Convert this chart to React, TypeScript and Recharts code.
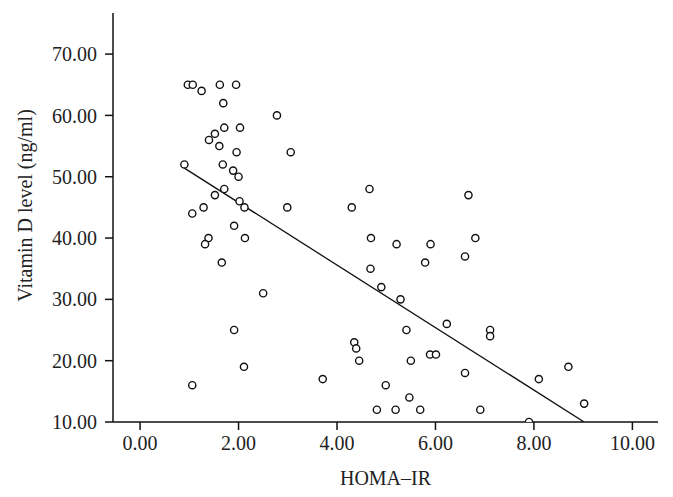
import { ScatterChart, Scatter, XAxis, YAxis } from "recharts";

const homaIr = [
  0.97, 1.07, 1.25, 1.62, 1.95, 1.69, 2.78, 1.4, 1.52, 1.71, 2.03, 1.61, 1.96,
  3.06, 0.9, 1.68, 1.89, 2.0, 1.71, 1.52, 2.02, 2.12, 2.99, 1.29, 1.06, 1.91,
  1.39, 2.13, 1.32, 1.66, 2.5, 1.91, 2.11, 1.06, 3.71, 4.66, 4.3, 6.67, 4.69,
  5.21, 5.9, 6.81, 5.79, 6.6, 4.68, 4.9, 5.29, 6.23, 5.41, 7.11, 7.11, 4.35,
  4.39, 4.45, 5.5, 5.89, 6.01, 8.7, 6.6, 8.1, 4.99, 5.47, 4.81, 5.19, 5.69,
  6.91, 9.02, 7.9,
];

const vitaminD = [
  65, 65, 64, 65, 65, 62, 60, 56, 57, 58, 58, 55, 54, 54, 52, 52, 51, 50, 48,
  47, 46, 45, 45, 45, 44, 42, 40, 40, 39, 36, 31, 25, 19, 16, 17, 48, 45, 47,
  40, 39, 39, 40, 36, 37, 35, 32, 30, 26, 25, 25, 24, 23, 22, 20, 20, 21, 21,
  19, 18, 17, 16, 14, 12, 12, 12, 12, 13, 10,
];

// fitted regression line end points
const fitX = [0.9, 9.02];
const fitY = [51.4, 10];

const xTicks = [0, 2, 4, 6, 8, 10];
const yTicks = [10, 20, 30, 40, 50, 60, 70];

const points = homaIr.map((x, i) => ({ x, y: vitaminD[i] }));
const fitLine = fitX.map((x, i) => ({ x, y: fitY[i] }));

const font = "'Liberation Serif', 'DejaVu Serif', serif";

const Ring = (props: any) => (
  <circle
    cx={props.cx}
    cy={props.cy}
    r={3.6}
    fill="#fff"
    stroke="#111"
    strokeWidth={1.4}
  />
);

export default function App() {
  return (
    <div style={{ position: "absolute", left: 0, top: 0, background: "#fff" }}>
      <ScatterChart
        width={673}
        height={497}
        margin={{ top: 13, right: 15, bottom: 0, left: 0 }}
      >
        <XAxis
          type="number"
          dataKey="x"
          domain={[-0.55, 10.52]}
          ticks={xTicks}
          tickFormatter={(v: number) => v.toFixed(2)}
          allowDataOverflow
          height={75}
          tickSize={8}
          tickMargin={6}
          stroke="#111"
          strokeWidth={1.5}
          tick={{ fill: "#222", fontSize: 20, fontFamily: font }}
          label={{
            value: "HOMA–IR",
            position: "insideBottom",
            offset: 12,
            fill: "#222",
            fontSize: 20,
            fontFamily: font,
          }}
        />
        <YAxis
          type="number"
          dataKey="y"
          domain={[10, 76.7]}
          ticks={yTicks}
          tickFormatter={(v: number) => v.toFixed(2)}
          allowDataOverflow
          width={113}
          tickSize={8}
          tickMargin={8}
          stroke="#111"
          strokeWidth={1.5}
          tick={{ fill: "#222", fontSize: 20, fontFamily: font }}
          label={{
            content: (p: any) => {
              const vb = p.viewBox || {};
              const cx = 25;
              const cy = (vb.y ?? 13) + (vb.height ?? 409) / 2 - 12;
              return (
                <text
                  x={cx}
                  y={cy}
                  transform={`rotate(-90 ${cx} ${cy})`}
                  textAnchor="middle"
                  dominantBaseline="central"
                  fill="#222"
                  fontSize={20}
                  fontFamily={font}
                >
                  Vitamin D level (ng/ml)
                </text>
              );
            },
          }}
        />
        <Scatter
          data={fitLine}
          line={{ stroke: "#111", strokeWidth: 1.3 }}
          shape={() => <g />}
          isAnimationActive={false}
        />
        <Scatter data={points} shape={Ring} isAnimationActive={false} />
      </ScatterChart>
    </div>
  );
}
